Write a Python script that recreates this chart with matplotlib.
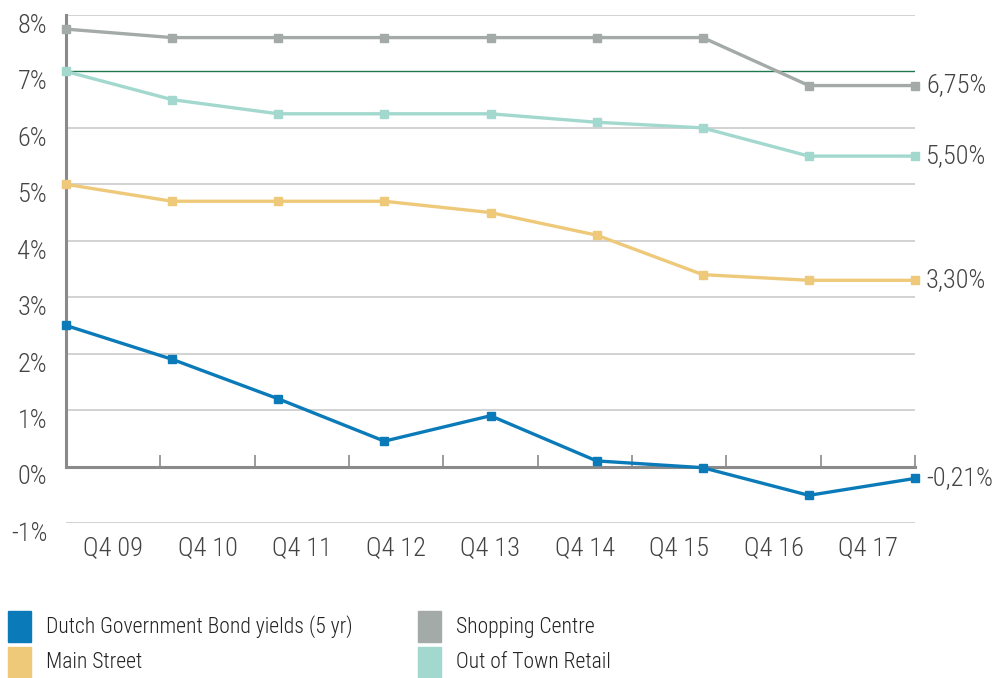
import matplotlib.pyplot as plt
from matplotlib.patches import Rectangle
from matplotlib.transforms import ScaledTranslation

plt.rcParams['font.family'] = ['Roboto Condensed', 'DejaVu Sans']
plt.rcParams['font.weight'] = 'light'

quarters = ["Q4 09", "Q4 10", "Q4 11", "Q4 12", "Q4 13", "Q4 14", "Q4 15", "Q4 16", "Q4 17"]

bond = [2.5, 1.9, 1.2, 0.45, 0.9, 0.1, -0.02, -0.51, -0.21]
shopping = [7.75, 7.6, 7.6, 7.6, 7.6, 7.6, 7.6, 6.75, 6.75]
out_of_town = [7.0, 6.5, 6.25, 6.25, 6.25, 6.1, 6.0, 5.5, 5.5]
main_street = [5.0, 4.7, 4.7, 4.7, 4.5, 4.1, 3.4, 3.3, 3.3]

names = ["Dutch Government Bond yields (5 yr)", "Main Street", "Shopping Centre", "Out of Town Retail"]
colors = ["#0a7bb8", "#eec97a", "#a3aaa8", "#a2d8ce"]
series = [bond, main_street, shopping, out_of_town]
end_labels = ["-0,21%", "3,30%", "6,75%", "5,50%"]

txt = "#444444"
fs = 19

fig = plt.figure(figsize=(10, 6.78), dpi=100)
ax = fig.add_axes([0.066, 1 - 523 / 678, 0.849, (523 - 15) / 678])

xs = list(range(len(quarters)))
n = len(quarters)
ax.set_xlim(0, n - 1)
ax.set_ylim(-1, 8)

# horizontal grid
for v in range(-1, 9):
    if v == 0:
        continue
    if v == 7:
        ax.axhline(v, color="#1e7a4c", lw=1.0, zorder=1)
    else:
        ax.axhline(v, color="#d2d2d2", lw=1.4, zorder=1)

for vals, c, lab in zip(series, colors, end_labels):
    ax.plot(xs, vals, color=c, lw=2.4, marker="s", ms=6, clip_on=False, zorder=3)
    ax.annotate(lab, (xs[-1], vals[-1]), xytext=(8, 0), textcoords="offset points",
                ha="left", va="center", fontsize=fs, color=txt, annotation_clip=False)

# axes
for s in ["top", "right"]:
    ax.spines[s].set_visible(False)
ax.spines["bottom"].set_position(("data", 0))
ax.spines["bottom"].set_color("#8a8a8a")
ax.spines["bottom"].set_linewidth(2.2)
ax.spines["left"].set_color("#8a8a8a")
ax.spines["left"].set_linewidth(2.2)
ax.spines["left"].set_bounds(0, 8)
ax.spines["bottom"].set_zorder(2)

# category ticks: boundaries as marks, centres carry the labels
step = (n - 1) / n
ax.set_xticks([step * (i + 1) for i in range(n)])
ax.set_xticklabels([])
ax.tick_params(axis="x", which="major", direction="in", length=9, width=1.2, color="#8a8a8a")
ax.set_xticks([step * (i + 0.5) for i in range(n)], minor=True)
ax.set_xticklabels(quarters, minor=True, fontsize=fs, color=txt)
ax.tick_params(axis="x", which="minor", length=0, pad=50)

ax.set_yticks(range(-1, 9))
ax.set_yticklabels([f"{v}%" for v in range(-1, 9)], fontsize=fs, color=txt)
ax.tick_params(axis="y", length=0, pad=13.5)
for t in ax.get_yticklabels():
    t.set_transform(t.get_transform() + ScaledTranslation(0, -6 / 72, fig.dpi_scale_trans))

# legend
slots = [(8, 611), (8, 647), (418, 611), (418, 647)]
for (px, py), c, name in zip(slots, colors, names):
    fig.add_artist(Rectangle((px / 1000, 1 - (py + 31) / 678), 23 / 1000, 31 / 678,
                             transform=fig.transFigure, color=c))
    fig.text((px + 38) / 1000, 1 - (py + 16) / 678, name, fontsize=15.6, color="#222222",
             ha="left", va="center")

fig.savefig("out.png", dpi=100)
